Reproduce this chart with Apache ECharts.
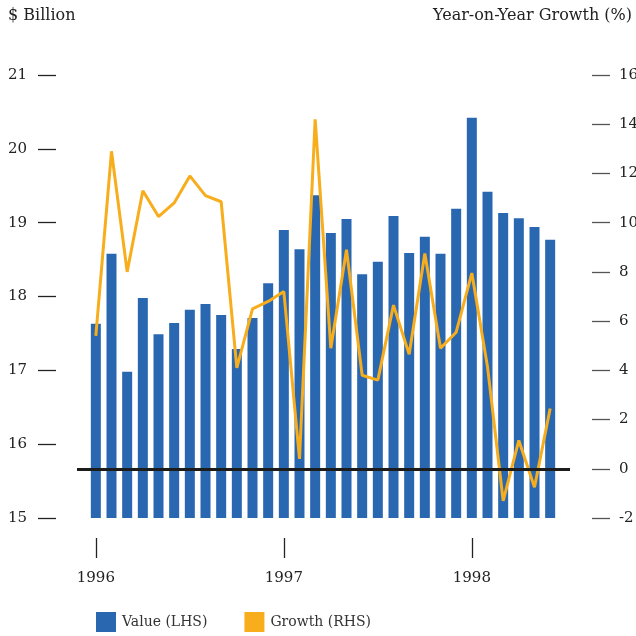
<!DOCTYPE html>
<html>
<head>
<meta charset="utf-8">
<script src="https://cdn.jsdelivr.net/npm/echarts@6/dist/echarts.min.js"></script>
<style>
  html, body { margin: 0; padding: 0; background: #fff; }
  #chart { width: 636px; height: 636px; }
</style>
</head>
<body>
<div id="chart"></div>
<script>
// monthly, Jan 1996 - Jun 1998
var months = [
  '1996-01', '1996-02', '1996-03', '1996-04', '1996-05', '1996-06',
  '1996-07', '1996-08', '1996-09', '1996-10', '1996-11', '1996-12',
  '1997-01', '1997-02', '1997-03', '1997-04', '1997-05', '1997-06',
  '1997-07', '1997-08', '1997-09', '1997-10', '1997-11', '1997-12',
  '1998-01', '1998-02', '1998-03', '1998-04', '1998-05', '1998-06'
];
// $ billion (LHS)
var values = [
  17.63, 18.58, 16.98, 17.98, 17.49, 17.64, 17.82, 17.90, 17.75, 17.29, 17.71, 18.18,
  18.90, 18.64, 19.37, 18.86, 19.05, 18.30, 18.47, 19.09, 18.59, 18.81, 18.58, 19.19,
  20.42, 19.42, 19.13, 19.06, 18.94, 18.77
];
// year-on-year growth % (RHS)
var growth = [
  5.4, 12.9, 8.0, 11.3, 10.25, 10.8, 11.9, 11.1, 10.85, 4.1, 6.5, 6.8,
  7.2, 0.4, 14.2, 4.9, 8.9, 3.8, 3.6, 6.65, 4.65, 8.75, 4.9, 5.55,
  7.95, 4.15, -1.3, 1.15, -0.75, 2.45
];
var seriesNames = ['Value (LHS)', 'Growth (RHS)'];

var font = 'DejaVu Serif';
var chart = echarts.init(document.getElementById('chart'));

var option = {
  animation: false,
  backgroundColor: '#fff',
  title: [
    {
      text: '$ Billion',
      left: 8, top: 8, padding: 0,
      textStyle: { fontFamily: font, fontSize: 16, fontWeight: 'normal', color: '#222' }
    },
    {
      text: 'Year-on-Year Growth (%)',
      right: 4, top: 8, padding: 0,
      textStyle: { fontFamily: font, fontSize: 16, fontWeight: 'normal', color: '#222' }
    }
  ],
  legend: {
    data: seriesNames,
    left: 91, top: 607,
    icon: 'rect',
    itemWidth: 20, itemHeight: 20,
    itemGap: 37,
    textStyle: { fontFamily: font, fontSize: 14, color: '#333', padding: [7, 0, 0, 1] }
  },
  grid: [
    { left: 88, right: 78, top: 75, bottom: 118, outerBoundsMode: 'none', containLabel: false },
    { left: 77, right: 66, top: 75, bottom: 118, outerBoundsMode: 'none', containLabel: false }
  ],
  xAxis: [
    {
      type: 'category',
      gridIndex: 0,
      data: months,
      boundaryGap: true,
      offset: 20,
      axisLine: { show: false, onZero: false },
      axisTick: {
        show: true, alignWithLabel: true, length: 20,
        interval: 11,
        lineStyle: { color: '#222', width: 1.3 }
      },
      axisLabel: {
        interval: 11,
        formatter: function (v) { return v.slice(0, 4); },
        margin: 33,
        fontFamily: font, fontSize: 15, color: '#222'
      },
      splitLine: { show: false }
    },
    { type: 'value', gridIndex: 1, min: 0, max: 1, show: false }
  ],
  yAxis: [
    {
      type: 'value', gridIndex: 0, position: 'left',
      min: 15, max: 21, interval: 1,
      offset: 32,
      axisLine: { show: false },
      axisTick: { show: true, length: 18, lineStyle: { color: '#222', width: 1.3 } },
      axisLabel: { margin: 29, fontFamily: font, fontSize: 15, color: '#222' },
      splitLine: { show: false }
    },
    {
      type: 'value', gridIndex: 0, position: 'right',
      min: -2, max: 16, interval: 2,
      offset: 34,
      axisLine: { show: false },
      axisTick: { show: true, length: 18, lineStyle: { color: '#555', width: 1.3 } },
      axisLabel: { margin: 27, fontFamily: font, fontSize: 15, color: '#222' },
      splitLine: { show: false }
    },
    { type: 'value', gridIndex: 1, min: -2, max: 16, show: false }
  ],
  series: [
    {
      name: seriesNames[0],
      type: 'bar',
      xAxisIndex: 0, yAxisIndex: 0,
      data: values,
      barWidth: 10,
      itemStyle: { color: '#2968b1' },
      z: 2
    },
    {
      // zero line for the growth axis
      type: 'line',
      xAxisIndex: 1, yAxisIndex: 2,
      data: [[0, 0]],
      symbol: 'none',
      lineStyle: { opacity: 0 },
      silent: true,
      z: 3,
      markLine: {
        silent: true,
        symbol: 'none',
        label: { show: false },
        lineStyle: { color: '#1c1c1c', width: 3, type: 'solid' },
        data: [{ yAxis: 0 }]
      }
    },
    {
      name: seriesNames[1],
      type: 'line',
      xAxisIndex: 0, yAxisIndex: 1,
      data: growth,
      symbol: 'none',
      lineStyle: { color: '#f7ad1c', width: 3 },
      itemStyle: { color: '#f7ad1c' },
      z: 4
    }
  ]
};

chart.setOption(option);
</script>
</body>
</html>
